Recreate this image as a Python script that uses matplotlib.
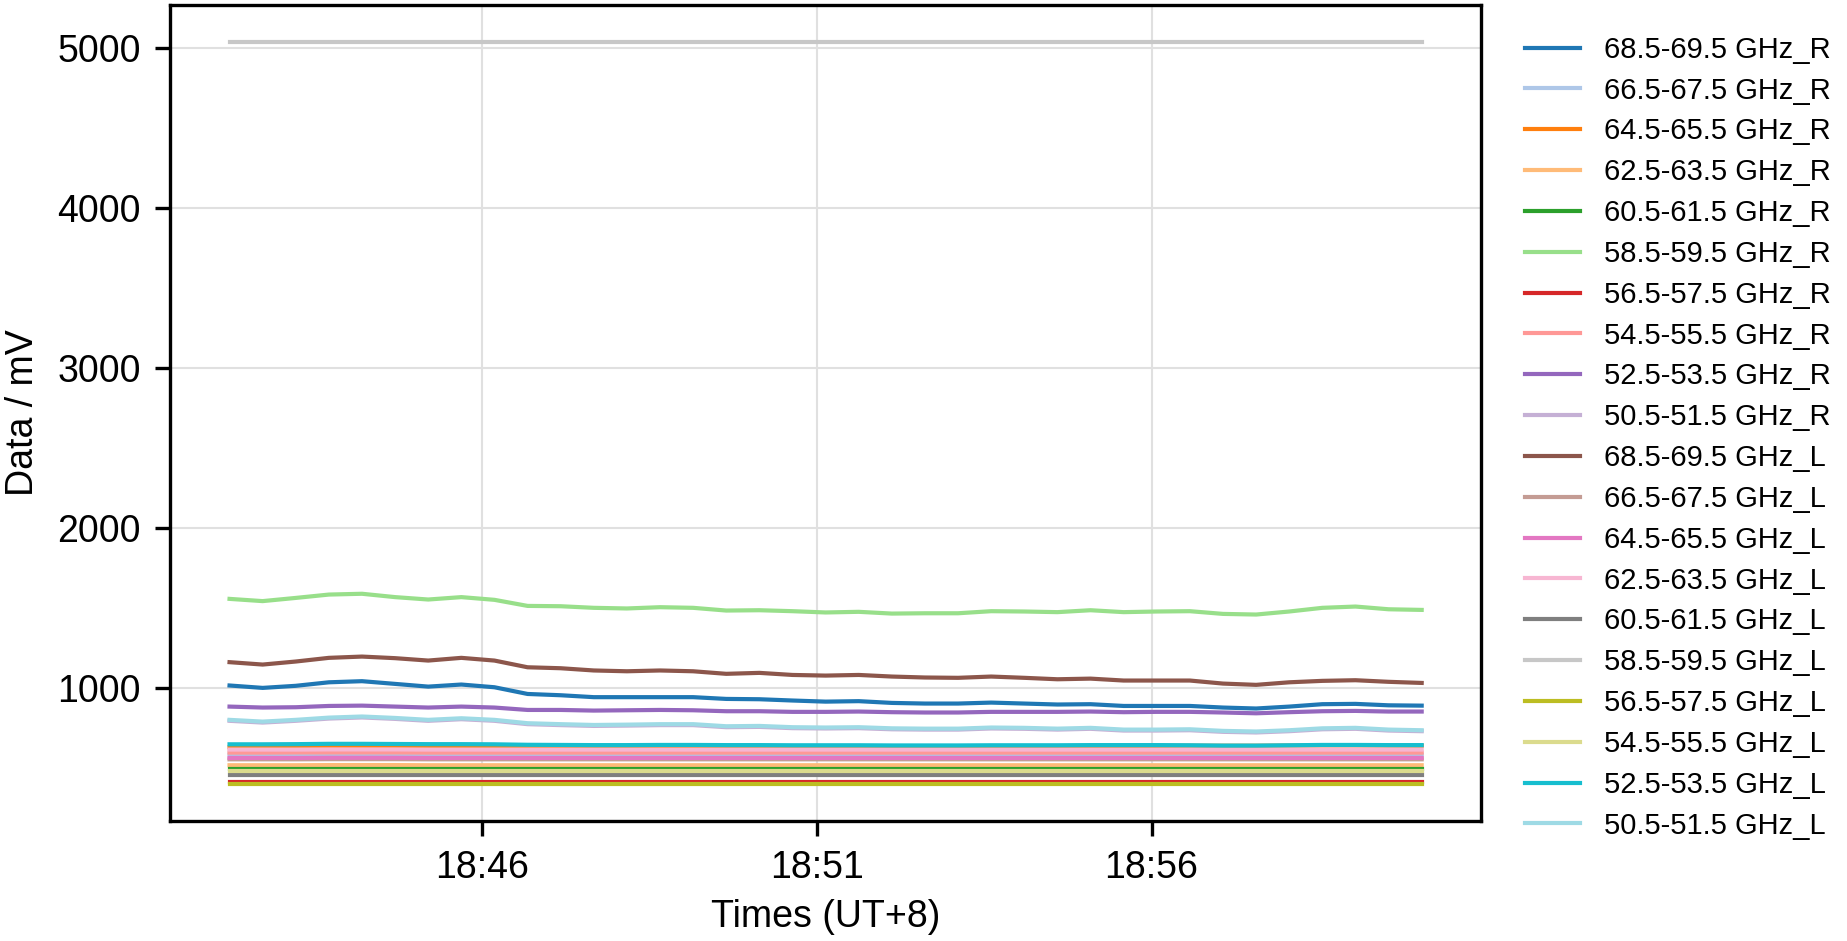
import matplotlib
matplotlib.use("Agg")
import matplotlib.pyplot as plt
import matplotlib.dates as mdates
import pandas as pd

plt.rcParams['font.family'] = ['Liberation Sans', 'DejaVu Sans']

# sample times (37 readings between 18:42:12 and 19:00:02)
times = pd.date_range("2024-01-01 18:42:14", "2024-01-01 19:00:02", periods=37)

labels = ["68.5-69.5 GHz_R", "66.5-67.5 GHz_R", "64.5-65.5 GHz_R", "62.5-63.5 GHz_R",
          "60.5-61.5 GHz_R", "58.5-59.5 GHz_R", "56.5-57.5 GHz_R", "54.5-55.5 GHz_R",
          "52.5-53.5 GHz_R", "50.5-51.5 GHz_R",
          "68.5-69.5 GHz_L", "66.5-67.5 GHz_L", "64.5-65.5 GHz_L", "62.5-63.5 GHz_L",
          "60.5-61.5 GHz_L", "58.5-59.5 GHz_L", "56.5-57.5 GHz_L", "54.5-55.5 GHz_L",
          "52.5-53.5 GHz_L", "50.5-51.5 GHz_L"]

# right polarisation (mV)
r685 = [1013, 998, 1011, 1033, 1040, 1023, 1006, 1019, 1002, 960, 952, 940, 940, 940, 940, 929, 927, 919, 912,
        915, 904, 900, 900, 906, 900, 894, 896, 885, 885, 885, 875, 869, 881, 896, 898, 889, 887]
r665 = [581, 581, 582, 582, 582, 582, 581, 581, 581, 580, 580, 580, 580, 580, 580, 580, 580, 580, 580,
        580, 580, 580, 580, 580, 580, 580, 580, 580, 580, 580, 580, 580, 580, 580, 580, 580, 580]
r645 = [626, 626, 627, 628, 628, 628, 627, 627, 627, 626, 626, 626, 626, 627, 627, 627, 627, 628, 628,
        629, 629, 629, 630, 631, 632, 633, 634, 634, 635, 636, 636, 636, 637, 638, 638, 637, 636]
r625 = [514, 514, 514, 515, 515, 515, 514, 514, 514, 514, 514, 514, 514, 514, 514, 514, 514, 514, 514,
        514, 514, 514, 514, 514, 514, 514, 514, 514, 514, 514, 514, 514, 514, 514, 514, 514, 514]
r605 = [492, 492, 492, 492, 492, 492, 492, 492, 492, 492, 492, 492, 492, 492, 492, 492, 492, 492, 492,
        492, 492, 492, 492, 492, 492, 492, 492, 492, 492, 492, 492, 492, 492, 492, 492, 492, 492]
r585 = [1555, 1541, 1561, 1582, 1587, 1566, 1551, 1566, 1549, 1511, 1509, 1499, 1495, 1503, 1499, 1482, 1484,
        1478, 1470, 1474, 1463, 1465, 1465, 1478, 1476, 1472, 1484, 1472, 1476, 1478, 1461, 1457, 1476, 1499,
        1507, 1490, 1486]
r565 = [410, 410, 410, 410, 410, 410, 410, 410, 410, 410, 410, 410, 410, 410, 410, 410, 410, 410, 410,
        410, 410, 410, 410, 410, 410, 410, 410, 410, 410, 410, 410, 410, 410, 410, 410, 410, 410]
r545 = [593, 593, 594, 594, 594, 594, 593, 593, 593, 593, 593, 593, 593, 593, 593, 593, 593, 593, 593,
        593, 593, 593, 593, 593, 593, 593, 593, 593, 593, 593, 593, 593, 593, 593, 593, 593, 593]
r525 = [881, 875, 877, 885, 887, 881, 875, 881, 875, 860, 860, 856, 858, 860, 858, 852, 852, 848, 848,
        850, 846, 844, 844, 848, 848, 848, 850, 846, 848, 848, 844, 839, 846, 852, 854, 850, 850]
r505 = [792, 781, 792, 806, 813, 804, 792, 802, 792, 771, 765, 760, 762, 765, 765, 752, 754, 746, 744,
        746, 739, 737, 737, 744, 742, 737, 742, 731, 731, 733, 723, 719, 727, 739, 742, 731, 727]

# left polarisation (mV)
l685 = [1159, 1144, 1163, 1186, 1194, 1184, 1169, 1186, 1169, 1127, 1121, 1107, 1102, 1107, 1102, 1086, 1092,
        1079, 1075, 1079, 1069, 1063, 1061, 1069, 1061, 1052, 1056, 1044, 1044, 1044, 1025, 1017, 1033, 1042,
        1046, 1036, 1029]
l665 = [551, 551, 551, 552, 552, 552, 551, 551, 551, 551, 551, 551, 551, 551, 551, 551, 551, 551, 551,
        551, 551, 551, 551, 551, 551, 551, 551, 551, 551, 551, 551, 551, 551, 551, 551, 551, 551]
l645 = [560, 560, 560, 561, 561, 561, 560, 560, 560, 560, 560, 560, 560, 560, 560, 560, 560, 560, 560,
        560, 560, 560, 560, 560, 560, 560, 560, 560, 560, 560, 560, 560, 560, 560, 560, 560, 560]
l625 = [612, 612, 612, 613, 613, 613, 612, 612, 612, 612, 612, 612, 612, 612, 612, 612, 612, 612, 612,
        612, 612, 612, 612, 612, 612, 612, 612, 612, 612, 612, 612, 612, 612, 612, 612, 612, 612]
l605 = [456, 456, 456, 456, 456, 456, 456, 456, 456, 456, 456, 456, 456, 456, 456, 456, 456, 456, 456,
        456, 456, 456, 456, 456, 456, 456, 456, 456, 456, 456, 456, 456, 456, 456, 456, 456, 456]
l585 = [5038, 5038, 5038, 5038, 5038, 5038, 5038, 5038, 5038, 5038, 5038, 5038, 5038, 5038, 5038, 5038, 5038,
        5038, 5038, 5038, 5038, 5038, 5038, 5038, 5038, 5038, 5038, 5038, 5038, 5038, 5038, 5038, 5038, 5038,
        5038, 5038, 5038]
l565 = [397, 397, 397, 397, 397, 397, 397, 397, 397, 397, 397, 397, 397, 397, 397, 397, 397, 397, 397,
        397, 397, 397, 397, 397, 397, 397, 397, 397, 397, 397, 397, 397, 397, 397, 397, 397, 397]
l545 = [478, 478, 478, 478, 478, 478, 478, 478, 478, 478, 478, 478, 478, 478, 478, 478, 478, 478, 478,
        478, 478, 478, 478, 478, 478, 478, 478, 478, 478, 478, 478, 478, 478, 478, 478, 478, 478]
l525 = [645, 645, 646, 648, 648, 647, 646, 646, 645, 642, 641, 640, 640, 641, 641, 640, 640, 639, 639,
        639, 638, 638, 638, 639, 639, 639, 640, 640, 640, 639, 637, 637, 639, 641, 641, 640, 640]
l505 = [798, 787, 798, 812, 819, 810, 798, 808, 798, 777, 771, 766, 768, 771, 771, 758, 760, 752, 750,
        752, 745, 743, 743, 750, 748, 743, 748, 737, 737, 739, 729, 725, 733, 745, 748, 737, 733]

series = [r685, r665, r645, r625, r605, r585, r565, r545, r525, r505,
          l685, l665, l645, l625, l605, l585, l565, l545, l525, l505]

fig = plt.figure(figsize=(1847 / 300, 941 / 300), dpi=300)
ax = fig.add_axes([0.092, 0.1275, 0.71, 0.867])

cmap = plt.get_cmap('tab20')
for i, vals in enumerate(series):
    ax.plot(times, vals, color=cmap(i), lw=1.0, label=labels[i])

ax.grid(True, color='#e0e0e0', lw=0.5)
ax.set_axisbelow(True)
ax.xaxis.set_major_locator(mdates.MinuteLocator(byminute=range(1, 60, 5)))
ax.xaxis.set_major_formatter(mdates.DateFormatter('%H:%M'))
ax.tick_params(labelsize=9, length=3.5, width=0.8)
ax.set_xlabel('Times (UT+8)', fontsize=9, labelpad=3)
ax.set_ylabel('Data / mV', fontsize=9)
for s in ax.spines.values():
    s.set_linewidth(0.8)

ax.legend(loc='upper left', bbox_to_anchor=(1.01, 1.0), frameon=False, fontsize=7,
          labelspacing=0.44, borderaxespad=0.65, handlelength=1.9)

fig.savefig('out.png', dpi=300)
